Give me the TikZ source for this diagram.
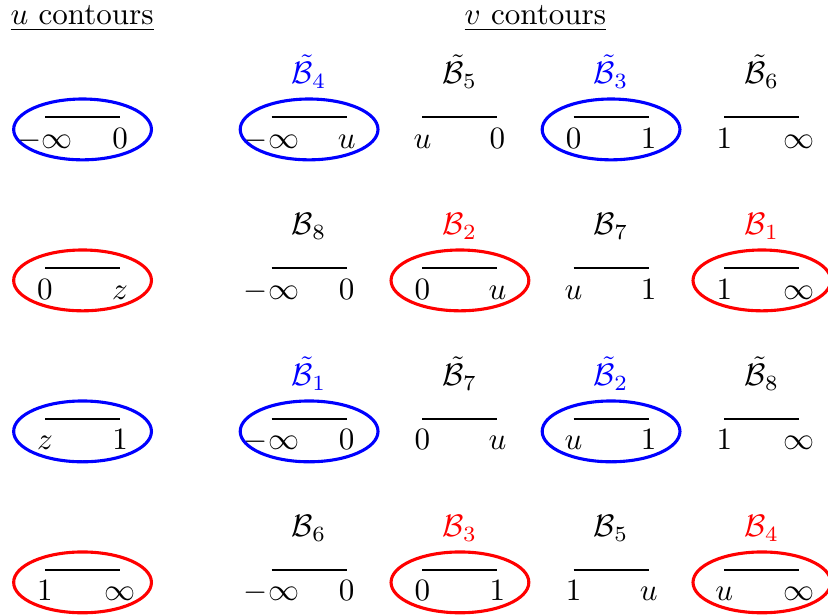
\documentclass[tikz,border=0pt]{standalone}
\usepackage{xcolor}
\definecolor{cBlue}{HTML}{0000FF}
\definecolor{cRed}{HTML}{FF0000}
\usepackage{tikz}
\usetikzlibrary{positioning,shapes.geometric}
\tikzset{
  seg-end/.style={anchor=north,inner sep=3.33pt,text height=1.5ex,text depth=.25ex},
  seg-bar/.style={line width=0.9pt},
  seg-name/.style={anchor=base,inner sep=1pt},
  head/.style={anchor=base,inner sep=0pt},
  loop-blue/.style={draw=cBlue,line width=1pt,ellipse,inner sep=0pt,
    minimum width=44.4pt,minimum height=19.6pt},
  loop-red/.style={loop-blue,draw=cRed},
}
% one segment: name, position, left end, right end
\newcommand{\cseg}[4]{%
  \coordinate (#1) at #2;
  \node[seg-end] (#1-l) at ([xshift=-12.1pt]#1) {$#3$};
  \node[seg-end] (#1-r) at ([xshift=12.1pt]#1) {$#4$};
  \draw[seg-bar] (#1-l.north) -- (#1-r.north);
}

\begin{document}
\begin{tikzpicture}[x=1pt,y=1pt]
  \useasboundingbox (0,0) rectangle (266.8,-198.2);
  \node[head,anchor=base west] (uhead) at (3.2,-8) {\underline{$u$ contours}};
  \node[head]                  (vhead) at (172.5,-8) {\underline{$v$ contours}};

  % u contours
  \cseg{u1}{(26.6,-37.7)}{-\infty}{0}
  \node[loop-blue] (u1-loop) at ([yshift=-4pt]u1) {};
  \cseg{u2}{(26.6,-86.35)}{0}{z}
  \node[loop-red]  (u2-loop) at ([yshift=-4pt]u2) {};
  \cseg{u3}{(26.6,-135)}{z}{1}
  \node[loop-blue] (u3-loop) at ([yshift=-4pt]u3) {};
  \cseg{u4}{(26.6,-183.65)}{1}{\infty}
  \node[loop-red]  (u4-loop) at ([yshift=-4pt]u4) {};

  % v contours, row 1
  \cseg{v11}{(99.6,-37.7)}{-\infty}{u}
  \node[seg-name,cBlue] (v11-name) at ([yshift=10.8pt]v11) {$\tilde{\mathcal{B}}_4$};
  \node[loop-blue]      (v11-loop) at ([yshift=-4pt]v11) {};
  \cseg{v12}{(148.2,-37.7)}{u}{0}
  \node[seg-name]       (v12-name) at ([yshift=10.8pt]v12) {$\tilde{\mathcal{B}}_5$};
  \cseg{v13}{(196.9,-37.7)}{0}{1}
  \node[seg-name,cBlue] (v13-name) at ([yshift=10.8pt]v13) {$\tilde{\mathcal{B}}_3$};
  \node[loop-blue]      (v13-loop) at ([yshift=-4pt]v13) {};
  \cseg{v14}{(245.5,-37.7)}{1}{\infty}
  \node[seg-name]       (v14-name) at ([yshift=10.8pt]v14) {$\tilde{\mathcal{B}}_6$};

  % row 2
  \cseg{v21}{(99.6,-86.35)}{-\infty}{0}
  \node[seg-name]       (v21-name) at ([yshift=10.8pt]v21) {$\mathcal{B}_8$};
  \cseg{v22}{(148.2,-86.35)}{0}{u}
  \node[seg-name,cRed]  (v22-name) at ([yshift=10.8pt]v22) {$\mathcal{B}_2$};
  \node[loop-red]       (v22-loop) at ([yshift=-4pt]v22) {};
  \cseg{v23}{(196.9,-86.35)}{u}{1}
  \node[seg-name]       (v23-name) at ([yshift=10.8pt]v23) {$\mathcal{B}_7$};
  \cseg{v24}{(245.5,-86.35)}{1}{\infty}
  \node[seg-name,cRed]  (v24-name) at ([yshift=10.8pt]v24) {$\mathcal{B}_1$};
  \node[loop-red]       (v24-loop) at ([yshift=-4pt]v24) {};

  % row 3
  \cseg{v31}{(99.6,-135)}{-\infty}{0}
  \node[seg-name,cBlue] (v31-name) at ([yshift=10.8pt]v31) {$\tilde{\mathcal{B}}_1$};
  \node[loop-blue]      (v31-loop) at ([yshift=-4pt]v31) {};
  \cseg{v32}{(148.2,-135)}{0}{u}
  \node[seg-name]       (v32-name) at ([yshift=10.8pt]v32) {$\tilde{\mathcal{B}}_7$};
  \cseg{v33}{(196.9,-135)}{u}{1}
  \node[seg-name,cBlue] (v33-name) at ([yshift=10.8pt]v33) {$\tilde{\mathcal{B}}_2$};
  \node[loop-blue]      (v33-loop) at ([yshift=-4pt]v33) {};
  \cseg{v34}{(245.5,-135)}{1}{\infty}
  \node[seg-name]       (v34-name) at ([yshift=10.8pt]v34) {$\tilde{\mathcal{B}}_8$};

  % row 4
  \cseg{v41}{(99.6,-183.65)}{-\infty}{0}
  \node[seg-name]       (v41-name) at ([yshift=10.8pt]v41) {$\mathcal{B}_6$};
  \cseg{v42}{(148.2,-183.65)}{0}{1}
  \node[seg-name,cRed]  (v42-name) at ([yshift=10.8pt]v42) {$\mathcal{B}_3$};
  \node[loop-red]       (v42-loop) at ([yshift=-4pt]v42) {};
  \cseg{v43}{(196.9,-183.65)}{1}{u}
  \node[seg-name]       (v43-name) at ([yshift=10.8pt]v43) {$\mathcal{B}_5$};
  \cseg{v44}{(245.5,-183.65)}{u}{\infty}
  \node[seg-name,cRed]  (v44-name) at ([yshift=10.8pt]v44) {$\mathcal{B}_4$};
  \node[loop-red]       (v44-loop) at ([yshift=-4pt]v44) {};
\end{tikzpicture}
\end{document}
